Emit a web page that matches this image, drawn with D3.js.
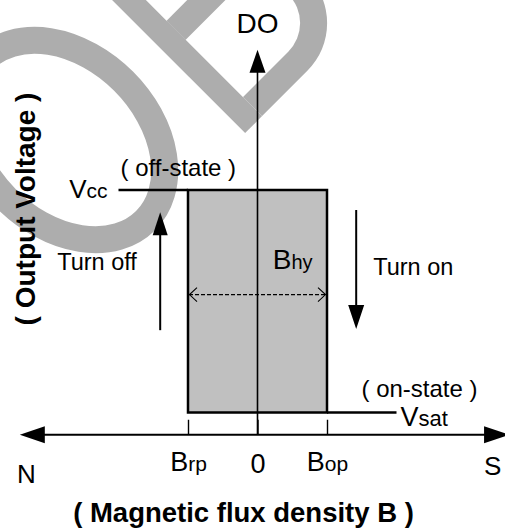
<!DOCTYPE html>
<html><head><meta charset="utf-8">
<script src="https://cdn.jsdelivr.net/npm/d3@7"></script>
<style>html,body{margin:0;padding:0;background:#fff;overflow:hidden;} svg{display:block;}</style>
</head><body>
<script>
// ---- data (normalized units: B in units of Bop, output in units of Vcc) ----
const tickValues = [-1, 0, 1];             // Brp, 0, Bop
const tickMain = ["B", "0", "B"];
const tickSub = ["rp", "", "op"];
const loopB = [-1, 1];                     // hysteresis window Brp..Bop
const loopV = [0, 1];                      // Vsat..Vcc
const levelMain = ["V", "V"];
const levelSub = ["cc", "sat"];
const vccLineB = [-2, -1];
const vsatLineB = [1, 2];
const stateLabels = ["( off-state )", "( on-state )"];
const turnLabels = ["Turn off", "Turn on"];
const turnArrowB = [-1.40, 1.42];
const turnOffV = [0.37, 0.90];
const turnOnV = [0.91, 0.375];
const bhyV = 0.53;
const bAxisExtent = [-3.42, 3.62];
const vAxisExtent = [-0.1, 1.63];
const axisNames = ["DO", "N", "S"];
const titles = ["( Magnetic flux density B )", "( Output Voltage )"];

const W = 505, H = 529;
const FONT = "'Liberation Sans', Arial, Helvetica, sans-serif";
const svg = d3.select("body").append("svg").attr("width", W).attr("height", H)
  .style("font-family", FONT);

const x = d3.scaleLinear().domain([-1, 1]).range([188, 327]);
const y = d3.scaleLinear().domain([0, 1]).range([412.5, 190]);

// ---- watermark (rotated "OB" outline letters) ----
const wm = svg.append("g").attr("class", "watermark");
const WM = "#adadad";
wm.append("ellipse").attr("cx", 65).attr("cy", 140).attr("rx", 114).attr("ry", 83)
  .attr("transform", "rotate(45,65,140)")
  .attr("fill", "none").attr("stroke", WM).attr("stroke-width", 27);
const bL = wm.append("g").attr("transform", "translate(243,97) rotate(-45)");
bL.append("rect").attr("x", -24).attr("y", -230).attr("width", 24).attr("height", 257).attr("fill", WM);
bL.append("path").attr("d", "M0,27 L64,27 A67.5,67.5 0 0 0 64,-108 L0,-108 Z").attr("fill", WM);
bL.append("path").attr("d", "M0,-81 L45,-81 A60,60 0 0 0 45,-230 L0,-230 Z").attr("fill", WM);
bL.append("path").attr("d", "M0,0 L64,0 A40.5,40.5 0 0 0 64,-81 L0,-81 Z").attr("fill", "#fff");
bL.append("path").attr("d", "M0,-108 L45,-108 A33,33 0 0 0 45,-203 L0,-203 Z").attr("fill", "#fff");

// ---- hysteresis loop ----
svg.append("rect")
  .attr("x", x(loopB[0])).attr("y", y(loopV[1]))
  .attr("width", x(loopB[1]) - x(loopB[0])).attr("height", y(loopV[0]) - y(loopV[1]))
  .attr("fill", "#c0c0c0").attr("stroke", "#000").attr("stroke-width", 2.5);

svg.append("line").attr("x1", x(vccLineB[0])).attr("x2", x(vccLineB[1]))
  .attr("y1", y(1)).attr("y2", y(1)).attr("stroke", "#000").attr("stroke-width", 2.5);
svg.append("line").attr("x1", x(vsatLineB[0])).attr("x2", x(vsatLineB[1]))
  .attr("y1", y(0)).attr("y2", y(0)).attr("stroke", "#000").attr("stroke-width", 2.5);

// ---- axes ----
const y0 = y(vAxisExtent[0]);
const ax = svg.append("g");
ax.append("line").attr("x1", x(bAxisExtent[0]) + 10).attr("x2", x(bAxisExtent[1]) - 10)
  .attr("y1", y0).attr("y2", y0).attr("stroke", "#000").attr("stroke-width", 2);
function head(px, py, dx, dy, len, hw) {
  const bx = px - dx * len, by = py - dy * len;
  return `M${px},${py} L${bx - dy * hw},${by + dx * hw} L${bx + dy * hw},${by - dx * hw} Z`;
}
ax.append("path").attr("d", head(x(bAxisExtent[0]), y0, -1, 0, 25, 8.5)).attr("fill", "#000");
ax.append("path").attr("d", head(x(bAxisExtent[1]), y0, 1, 0, 25, 8.5)).attr("fill", "#000");
ax.append("line").attr("x1", x(0)).attr("x2", x(0)).attr("y1", y0).attr("y2", y(vAxisExtent[1]) + 10)
  .attr("stroke", "#000").attr("stroke-width", 1.6);
ax.append("path").attr("d", head(x(0), y(vAxisExtent[1]), 0, -1, 23, 8)).attr("fill", "#000");

const xAxis = d3.axisBottom(x).tickValues(tickValues).tickSizeInner(-15).tickSizeOuter(0).tickFormat("");
const gx = svg.append("g").attr("transform", `translate(0,${y0})`).call(xAxis);
gx.select(".domain").remove();
gx.selectAll(".tick line").attr("stroke", "#000").attr("stroke-width", 1.4);
gx.selectAll(".tick text").remove();
gx.selectAll(".tick").append("text")
  .attr("y", (d, i) => (i === 1 ? 38 : 36))
  .attr("text-anchor", "middle").attr("fill", "#000")
  .each(function (d, i) {
    const t = d3.select(this);
    t.append("tspan").attr("font-size", 27).text(tickMain[i]);
    if (tickSub[i]) t.append("tspan").attr("font-size", 21).text(tickSub[i]);
  });

// ---- level labels ----
const vcc = svg.append("text").attr("x", x(vccLineB[0]) - 11).attr("y", y(1) + 8)
  .attr("text-anchor", "end");
vcc.append("tspan").attr("font-size", 26).text(levelMain[0]);
vcc.append("tspan").attr("font-size", 21).text(levelSub[0]);
const vsat = svg.append("text").attr("x", x(vsatLineB[1]) + 4).attr("y", y(0) + 13)
  .attr("text-anchor", "start");
vsat.append("tspan").attr("font-size", 27).text(levelMain[1]);
vsat.append("tspan").attr("font-size", 22).text(levelSub[1]);

svg.append("text").attr("x", x(vccLineB[0]) + 2).attr("y", y(1) - 14)
  .attr("font-size", 24).text(stateLabels[0]);
svg.append("text").attr("x", x(vsatLineB[1]) - 35).attr("y", y(0) - 16)
  .attr("font-size", 24).text(stateLabels[1]);

// ---- turn on / off arrows ----
svg.append("line").attr("x1", x(turnArrowB[0])).attr("x2", x(turnArrowB[0]))
  .attr("y1", y(turnOffV[0])).attr("y2", y(turnOffV[1]) + 15).attr("stroke", "#000").attr("stroke-width", 2);
svg.append("path").attr("d", head(x(turnArrowB[0]), y(turnOffV[1]), 0, -1, 23, 7.5)).attr("fill", "#000");
svg.append("line").attr("x1", x(turnArrowB[1])).attr("x2", x(turnArrowB[1]))
  .attr("y1", y(turnOnV[0])).attr("y2", y(turnOnV[1]) - 15).attr("stroke", "#000").attr("stroke-width", 2);
svg.append("path").attr("d", head(x(turnArrowB[1]), y(turnOnV[1]), 0, 1, 24, 8)).attr("fill", "#000");
svg.append("text").attr("x", x(turnArrowB[0]) - 103).attr("y", y(0.64)).attr("font-size", 23.5).text(turnLabels[0]);
svg.append("text").attr("x", x(turnArrowB[1]) + 17).attr("y", y(0.616)).attr("font-size", 23.5).text(turnLabels[1]);

// ---- Bhy dashed double arrow ----
const yb = y(bhyV);
svg.append("line").attr("x1", x(loopB[0]) + 1).attr("x2", x(loopB[1]) - 1)
  .attr("y1", yb).attr("y2", yb).attr("stroke", "#000").attr("stroke-width", 1.1)
  .attr("stroke-dasharray", "4,2");
svg.append("path").attr("d", `M${x(loopB[0]) + 9},${yb - 7} L${x(loopB[0]) + 1.5},${yb} L${x(loopB[0]) + 9},${yb + 7}`)
  .attr("fill", "none").attr("stroke", "#000").attr("stroke-width", 1.1);
svg.append("path").attr("d", `M${x(loopB[1]) - 9},${yb - 7} L${x(loopB[1]) - 1.5},${yb} L${x(loopB[1]) - 9},${yb + 7}`)
  .attr("fill", "none").attr("stroke", "#000").attr("stroke-width", 1.1);
const bhy = svg.append("text").attr("x", x(0.22)).attr("y", y(0.645));
bhy.append("tspan").attr("font-size", 28).text("B");
bhy.append("tspan").attr("font-size", 20).text("hy");

// ---- axis names and titles ----
svg.append("text").attr("x", x(0)).attr("y", 33).attr("text-anchor", "middle").attr("font-size", 28).text(axisNames[0]);
svg.append("text").attr("x", 17).attr("y", 483).attr("font-size", 26).text(axisNames[1]);
svg.append("text").attr("x", 484).attr("y", 475).attr("font-size", 26).text(axisNames[2]);
svg.append("text").attr("x", 243.5).attr("y", 522).attr("text-anchor", "middle")
  .attr("font-size", 27.5).attr("font-weight", "bold").text(titles[0]);
svg.append("text").attr("transform", "translate(35,209) rotate(-90)").attr("text-anchor", "middle")
  .attr("font-size", 28).attr("font-weight", "bold").text(titles[1]);
</script>
</body></html>
